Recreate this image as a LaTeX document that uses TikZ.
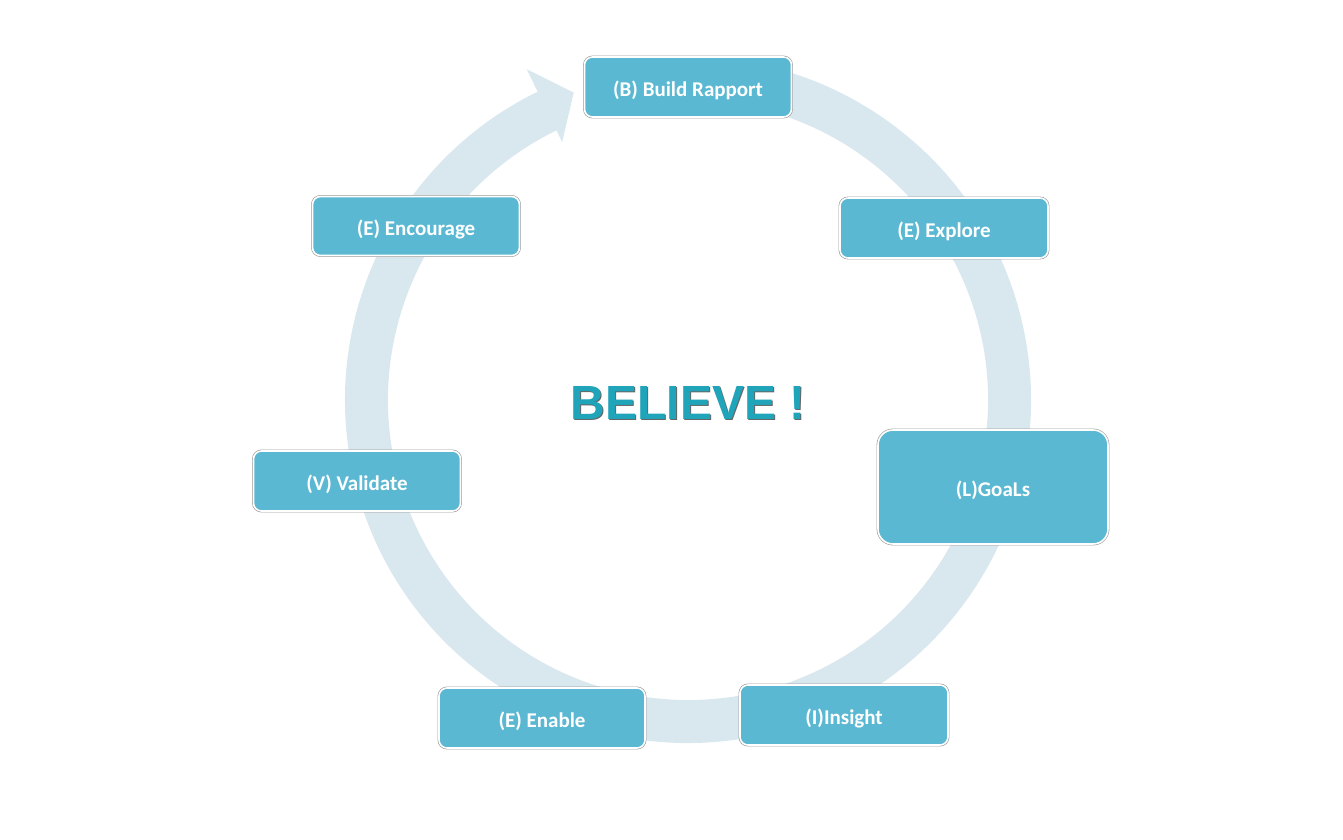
\documentclass[tikz,border=0pt]{standalone}
\usepackage{fontspec}
\setmainfont{Carlito}
\newfontfamily\believefont{Liberation Sans}
\usetikzlibrary{calc}
\definecolor{ringc}{HTML}{D9E7EF}
\definecolor{boxc}{HTML}{5BB8D2}
\definecolor{titlec}{HTML}{1FA4B9}
\newcommand{\bxt}[1]{\raisebox{-3pt}[\height][\depth]{#1}}
\tikzset{
  stepbox/.style={fill=boxc, draw=white, line width=1.6pt, rounded corners=8pt,
    preaction={draw=black!40, line width=2.8pt},
    minimum width=207pt, minimum height=60pt, inner sep=0pt,
    text=white, font=\fontsize{21}{25}\selectfont\bfseries},
}
\begin{document}
\begin{tikzpicture}[x=1pt,y=1pt]
\useasboundingbox (0,0) rectangle (1343,840);
\coordinate (c) at (688,440);
% ring arrow
\fill[ringc] ($(c)+(100:343)$) arc[start angle=100, end angle=-244, radius=343]
  -- ($(c)+(116:368)$) -- ($(c)+(110.4:328)$) -- ($(c)+(116:287)$)
  -- ($(c)+(116:300)$) arc[start angle=-244, end angle=100, radius=300] -- cycle;
% boxes
\node[stepbox] (b) at (688,753) {\bxt{(B) Build Rapport}};
\node[stepbox, minimum width=208pt] (e1) at (944,612) {\bxt{(E) Explore}};
\node[stepbox, minimum width=230pt, minimum height=114pt, rounded corners=15pt] (l) at (993,353) {\bxt{(L)GoaLs}};
\node[stepbox, minimum width=208pt] (i) at (844,125) {\bxt{(I)Insight}};
\node[stepbox, minimum width=206pt] (e2) at (542,122) {\bxt{(E) Enable}};
\node[stepbox] (v) at (357,359) {\bxt{(V) Validate}};
\node[stepbox, minimum height=59pt] (e3) at (416,614) {\bxt{(E) Encourage}};
% title
\node[text=black!60, font=\believefont\fontsize{48}{56}\selectfont\bfseries] at (689.2,435.8) {BELIEVE !};
\node[text=titlec, font=\believefont\fontsize{48}{56}\selectfont\bfseries] (t) at (688,437) {BELIEVE !};
\end{tikzpicture}
\end{document}
